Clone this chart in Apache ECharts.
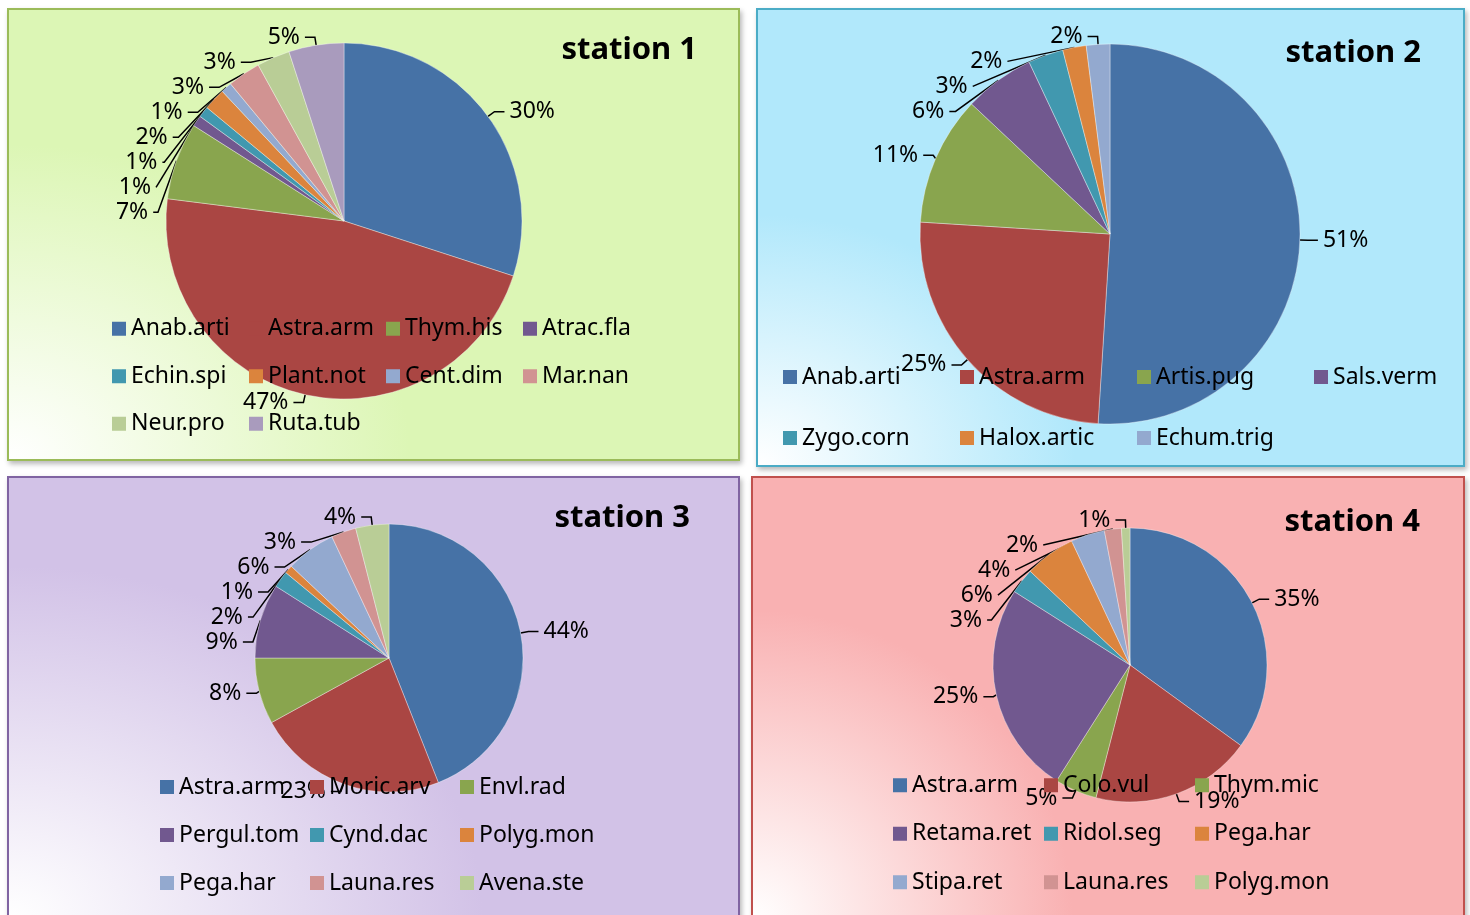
<!DOCTYPE html>
<html>
<head>
<meta charset="utf-8">
<script src="https://cdn.jsdelivr.net/npm/echarts/dist/echarts.min.js"></script>
<style>
  html, body { margin: 0; padding: 0; background: #ffffff; width: 1470px; height: 915px; overflow: hidden; }
  .panel { position: absolute; box-sizing: border-box; border: 2px solid; box-shadow: 2px 3px 5px rgba(0,0,0,0.28); }
  #p1 { left: 7px; top: 8px; width: 733px; height: 453px; border-color: #9bbb59;
        background: radial-gradient(ellipse 55% 70% at 0% 100%, #ffffff 0%, #dcf6b5 100%); }
  #p2 { left: 756px; top: 8px; width: 709px; height: 459px; border-color: #4bacc6;
        background: radial-gradient(ellipse 45% 55% at 0% 100%, #ffffff 0%, #b1e8fb 100%); }
  #p3 { left: 7px; top: 476px; width: 733px; height: 445px; border-color: #8064a2;
        background: radial-gradient(ellipse 65% 80% at 0% 100%, #ffffff 0%, #d2c2e7 100%); }
  #p4 { left: 751px; top: 476px; width: 714px; height: 445px; border-color: #c0504d;
        background: radial-gradient(ellipse 45% 70% at 0% 100%, #ffffff 0%, #f9b1b2 100%); }
</style>
</head>
<body>
<div id="p1" class="panel"></div>
<div id="p2" class="panel"></div>
<div id="p3" class="panel"></div>
<div id="p4" class="panel"></div>
<script>
// Slice colours, shared by every station in the same order
const palette = ['#4672a6', '#aa4643', '#89a54e', '#71588f', '#4198af', '#db843d', '#93a9cf', '#d19392', '#b9cd96', '#a99bbd'];

// Station 1 – species share (%)
const station1Names = ['Anab.arti', 'Astra.arm', 'Thym.his', 'Atrac.fla', 'Echin.spi', 'Plant.not', 'Cent.dim', 'Mar.nan', 'Neur.pro', 'Ruta.tub'];
const station1Values = [30, 47, 7, 1, 1, 2, 1, 3, 3, 5];

// Station 2
const station2Names = ['Anab.arti', 'Astra.arm', 'Artis.pug', 'Sals.verm', 'Zygo.corn', 'Halox.artic', 'Echum.trig'];
const station2Values = [51, 25, 11, 6, 3, 2, 2];

// Station 3
const station3Names = ['Astra.arm', 'Moric.arv', 'Envl.rad', 'Pergul.tom', 'Cynd.dac', 'Polyg.mon', 'Pega.har', 'Launa.res', 'Avena.ste'];
const station3Values = [44, 23, 8, 9, 2, 1, 6, 3, 4];

// Station 4
const station4Names = ['Astra.arm', 'Colo.vul', 'Thym.mic', 'Retama.ret', 'Ridol.seg', 'Pega.har', 'Stipa.ret', 'Launa.res', 'Polyg.mon'];
const station4Values = [35, 19, 5, 25, 3, 6, 4, 2, 1];

const FONT = '"Noto Sans", "Open Sans", sans-serif';

function drawStation(elId, title, names, values, layout) {
  const chart = echarts.init(document.getElementById(elId), null, { renderer: 'canvas' });
  const data = names.map((n, i) => ({ name: n, value: values[i] }));
  chart.setOption({
    animation: false,
    color: palette,
    title: {
      text: title,
      right: layout.titleRight,
      top: layout.titleTop,
      padding: 0,
      textStyle: { fontFamily: FONT, fontWeight: 'bold', fontSize: 31, color: '#000' }
    },
    legend: {
      data: names,
      orient: 'horizontal',
      left: layout.legendLeft,
      top: layout.legendTop,
      width: layout.legendWidth,
      padding: 0,
      itemGap: 10,
      itemWidth: 14,
      itemHeight: 14,
      icon: 'rect',
      selectedMode: false,
      itemStyle: { borderWidth: 0 },
      textStyle: {
        fontFamily: FONT,
        fontSize: 23,
        color: '#000',
        width: layout.legendTextWidth,
        lineHeight: layout.legendLineHeight
      }
    },
    series: [{
      type: 'pie',
      center: layout.center,
      radius: layout.radius,
      startAngle: 90,
      clockwise: true,
      data: data,
      itemStyle: { borderColor: 'rgba(255,255,255,0.45)', borderWidth: 0.8 },
      label: {
        show: true,
        position: 'outside',
        formatter: p => p.value + '%',
        fontFamily: FONT,
        fontSize: 23,
        color: '#000'
      },
      labelLine: {
        show: true,
        length: 8,
        length2: 10,
        lineStyle: { color: '#000', width: 1.5 }
      },
      emphasis: { disabled: true }
    }]
  });
}

drawStation('p1', 'station 1', station1Names, station1Values, {
  center: [335, 211], radius: 178,
  titleRight: 41, titleTop: 25,
  legendLeft: 103, legendTop: 319 - 19, legendWidth: 545, legendTextWidth: 108, legendLineHeight: 37.5
});

drawStation('p2', 'station 2', station2Names, station2Values, {
  center: [352, 224], radius: 190,
  titleRight: 42, titleTop: 28,
  legendLeft: 25, legendTop: 367 - 25.5, legendWidth: 705, legendTextWidth: 148, legendLineHeight: 51
});

drawStation('p3', 'station 3', station3Names, station3Values, {
  center: [380, 180], radius: 134,
  titleRight: 48, titleTop: 25,
  legendLeft: 151, legendTop: 309 - 19, legendWidth: 445, legendTextWidth: 121, legendLineHeight: 38
});

drawStation('p4', 'station 4', station4Names, station4Values, {
  center: [377, 187], radius: 137,
  titleRight: 43, titleTop: 29,
  legendLeft: 140, legendTop: 307 - 19, legendWidth: 448, legendTextWidth: 122, legendLineHeight: 38.5
});
</script>
</body>
</html>
